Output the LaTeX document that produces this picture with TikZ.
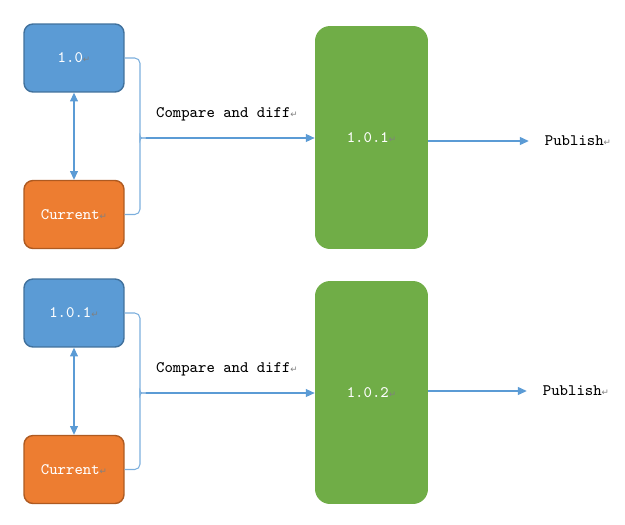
\documentclass[tikz,border=0pt]{standalone}
\usepackage{fontspec}
\newfontfamily\symfont{DejaVu Sans}
\usetikzlibrary{arrows.meta,calc}

\definecolor{verblue}{HTML}{5B9BD5}
\definecolor{verblueline}{HTML}{41719C}
\definecolor{curorange}{HTML}{ED7D31}
\definecolor{curorangeline}{HTML}{AE5A21}
\definecolor{outgreen}{HTML}{70AD47}
\definecolor{linkblue}{HTML}{5B9BD5}
\definecolor{markgrey}{HTML}{808080}

% word paragraph mark
\newcommand{\pmark}{{\symfont\fontsize{5}{5}\selectfont\textcolor{markgrey}{↵}}}

\tikzset{
  label/.style={font=\ttfamily\fontsize{9.1}{11}\selectfont},
  version/.style={label,draw=verblueline,fill=verblue,text=white,line width=0.8pt,
    rounded corners=0.18cm,minimum width=2cm,minimum height=1.36cm},
  current/.style={version,draw=curorangeline,fill=curorange},
  result/.style={label,fill=outgreen,text=white,rounded corners=0.3cm,
    minimum width=2.26cm,minimum height=4.46cm},
  link/.style={draw=linkblue,line width=0.6pt,-{Triangle[length=5pt,width=4.5pt]}},
  brace/.style={draw=linkblue!80,line width=0.6pt,rounded corners=3pt},
}

\begin{document}
\begin{tikzpicture}[x=0.02cm,y=-0.02cm]
\useasboundingbox (0,0) rectangle (625,524);

% first round
\node[version] (v0) at (74,58) {1.0\pmark};
\node[current] (c0) at (74,214.5) {Current\pmark};
\node[result] (g0) at (371.5,137.5) {1.0.1\pmark};
\coordinate (k0) at (146,138);
\node[label] (d0) at (227,114) {Compare and diff\pmark};
\node[label] (p0) at (578,141) {Publish\pmark};
\draw[link,{Triangle[length=5pt,width=4.5pt]}-{Triangle[length=5pt,width=4.5pt]}] (v0.south) -- (c0.north);
\draw[brace] (v0.east) -| ($(k0)+(-6,-3)$) to[out=-90,in=180] (k0);
\draw[brace] (k0) to[out=180,in=90] ($(k0)+(-6,3)$) |- (c0.east);
\draw[link] (k0) -- (k0 -| g0.west);
\draw[link,shorten >=2mm] (g0.east |- p0) -- (p0.west);

% second round
\node[version] (v1) at (74,313) {1.0.1\pmark};
\node[current] (c1) at (74,469.5) {Current\pmark};
\node[result] (g1) at (371.5,392.5) {1.0.2\pmark};
\coordinate (k1) at (146,393);
\node[label] (d1) at (227,369) {Compare and diff\pmark};
\node[label] (p1) at (576,391) {Publish\pmark};
\draw[link,{Triangle[length=5pt,width=4.5pt]}-{Triangle[length=5pt,width=4.5pt]}] (v1.south) -- (c1.north);
\draw[brace] (v1.east) -| ($(k1)+(-6,-3)$) to[out=-90,in=180] (k1);
\draw[brace] (k1) to[out=180,in=90] ($(k1)+(-6,3)$) |- (c1.east);
\draw[link] (k1) -- (k1 -| g1.west);
\draw[link,shorten >=2mm] (g1.east |- p1) -- (p1.west);
\end{tikzpicture}
\end{document}
